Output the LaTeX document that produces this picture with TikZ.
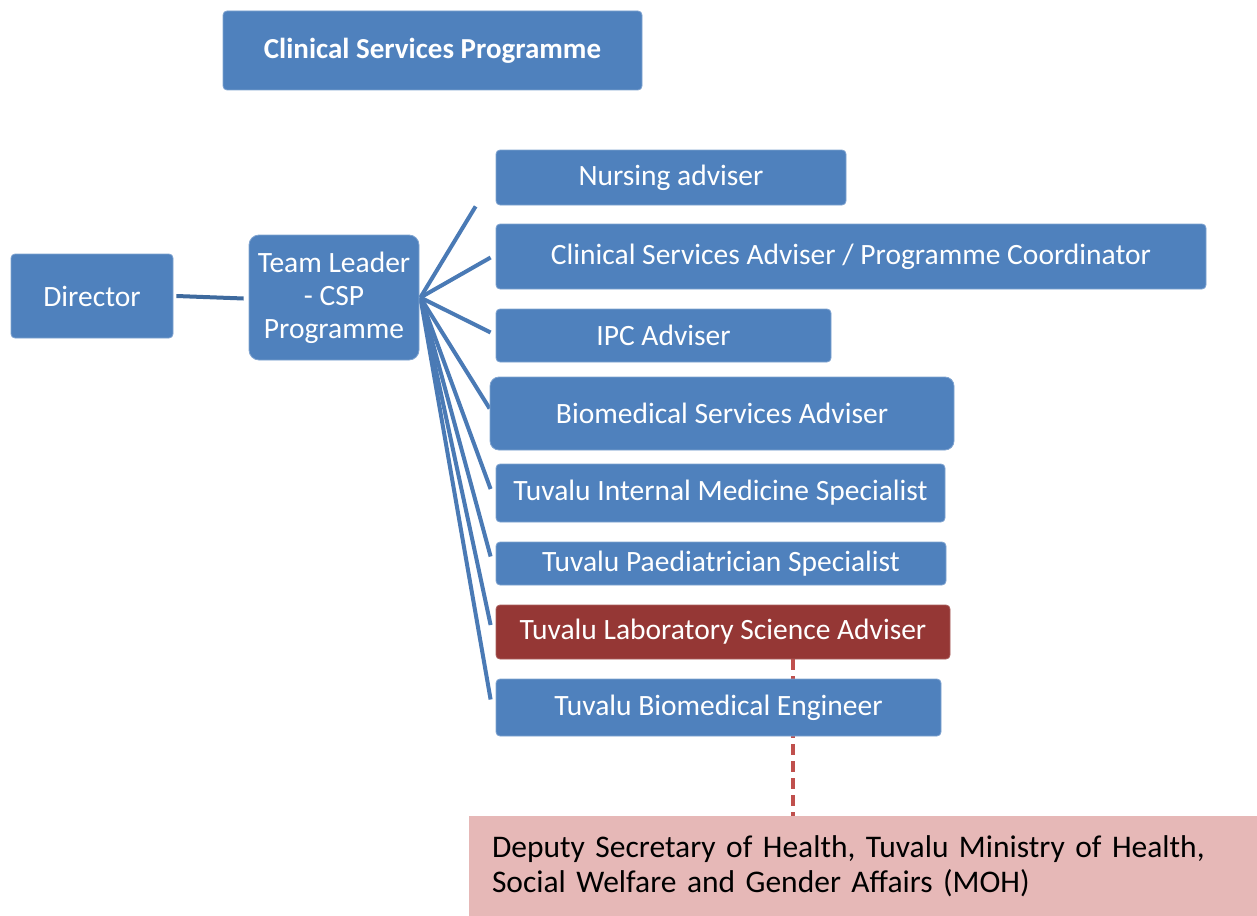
\documentclass[tikz,border=0pt]{standalone}
\usepackage{fontspec}
\setmainfont{Carlito}
\newfontfamily\mohfont[WordSpace=0.75]{Carlito}
\usetikzlibrary{backgrounds,calc}
\definecolor{boxblue}{HTML}{4F81BD}
\definecolor{edgeblue}{HTML}{7FA3D0}
\definecolor{linkblue}{HTML}{4A7AB5}
\definecolor{dirblue}{HTML}{3E6A9E}
\definecolor{labred}{HTML}{953735}
\definecolor{dashred}{HTML}{C0504D}
\definecolor{mohpink}{HTML}{E6B8B7}
\begin{document}
\begin{tikzpicture}[x=1pt,y=-1pt,
  unit/.style={fill=boxblue,draw=edgeblue,line width=0.8pt,rounded corners=4pt,
    text=white,inner sep=0pt,align=center,font=\fontsize{29.5}{33}\selectfont},
  redunit/.style={unit,fill=labred,draw=labred!80!white},
  mohbox/.style={fill=mohpink,draw=none,inner sep=0pt,inner xsep=23pt,
    align=left,text=black,font=\mohfont\fontsize{31.5}{35.5}\selectfont},
  fan/.style={draw=linkblue,line width=4pt},
  dirlink/.style={draw=dirblue,line width=4pt},
  dashlink/.style={draw=dashred,line width=4pt,dash pattern=on 11pt off 6pt}]
\useasboundingbox (0,0) rectangle (1257,915);

% heading
\node[unit,minimum width=419pt,minimum height=79pt,font=\fontsize{29}{33}\selectfont\bfseries]
  (title) at (432.5,50.5) {Clinical Services Programme};

% chain of command
\node[unit,minimum width=162pt,minimum height=84pt] (dir) at (92,296) {Director};
\node[unit,minimum width=170pt,minimum height=125pt,rounded corners=10pt] (lead) at (334,297.5)
  {Team Leader\\- CSP\\Programme};

% advisers and specialists
\node[unit,minimum width=350pt,minimum height=55pt] (nurse) at (671,177.5) {Nursing adviser};
\node[unit,minimum width=710pt,minimum height=65pt] (csa) at (851,256.5)
  {Clinical Services Adviser / Programme Coordinator};
\node[unit,minimum width=335pt,minimum height=53pt] (ipc) at (663.5,335.5) {IPC Adviser};
\node[unit,minimum width=464pt,minimum height=73pt,rounded corners=9pt] (bsa) at (722,413.5)
  {Biomedical Services Adviser};
\node[unit,minimum width=449pt,minimum height=58pt] (tims) at (720.5,493)
  {Tuvalu Internal Medicine Specialist};
\node[unit,minimum width=450pt,minimum height=43pt] (paed) at (721,563.5)
  {Tuvalu Paediatrician Specialist};
\node[redunit,minimum width=454pt,minimum height=54pt] (lab) at (723,632)
  {Tuvalu Laboratory Science Adviser};
\node[unit,minimum width=445pt,minimum height=57pt] (eng) at (718.5,707.5)
  {Tuvalu Biomedical Engineer};

% ministry counterpart
\node[mohbox,minimum width=788pt,minimum height=100pt,text width=742pt] (moh) at (863,866)
  {Deputy Secretary of Health, Tuvalu Ministry of Health,\\Social Welfare and Gender Affairs (MOH)};

\coordinate (nurseend) at ($(nurse.south west)+(-20,1)$);
\coordinate (hub) at ($(lead.east)+(1,0)$);

\begin{scope}[on background layer]
  \draw[dirlink] ($(dir.east)+(3,0)$) -- ($(lead.west)+(-5,1)$);
  \draw[fan] (hub) -- (nurseend);
  \draw[fan] (hub) -- ($(csa.west)+(-5,1)$);
  \draw[fan] (hub) -- ($(ipc.west)+(-5,-3)$);
  \draw[fan] (hub) -- ($(bsa.west)+(0,-5)$);
  \draw[fan] (hub) -- ($(tims.west)+(-5,-4)$);
  \draw[fan] (hub) -- ($(paed.west)+(-5,-7)$);
  \draw[fan] (hub) -- ($(lab.west)+(-5,-7)$);
  \draw[fan] (hub) -- ($(eng.west)+(-5,-8)$);
  \draw[dashlink] ($(lab.south)+(70,0)$) -- ($(moh.north)+(-70,0)$);
\end{scope}
\end{tikzpicture}
\end{document}
